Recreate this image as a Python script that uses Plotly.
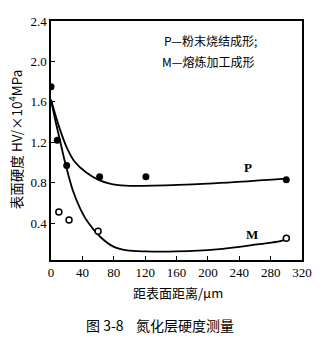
import plotly.graph_objects as go

# measured points
p_x = [0, 8, 20, 62, 121, 300]
p_y = [1.75, 1.22, 0.97, 0.86, 0.86, 0.83]
m_x = [10, 23, 60, 300]
m_y = [0.51, 0.43, 0.32, 0.25]

# fitted curves
pc_x = [0, 10, 20, 30, 45, 60, 75, 95, 130, 200, 300]
pc_y = [1.62, 1.36, 1.15, 1.01, 0.90, 0.83, 0.79, 0.77, 0.77, 0.79, 0.84]
mc_x = [0, 6, 12, 18, 28, 38, 46, 62, 79, 97, 120, 160, 211, 254, 296, 300]
mc_y = [1.62, 1.40, 1.20, 1.00, 0.72, 0.53, 0.42, 0.27, 0.17, 0.13, 0.12, 0.12, 0.14, 0.18, 0.23, 0.25]

x_ticks = [0, 40, 80, 120, 160, 200, 240, 280, 320]
y_ticks = [0.4, 0.8, 1.2, 1.6, 2.0, 2.4]

CJK = "Noto Sans CJK SC"
SERIF = "Liberation Serif"

fig = go.Figure()
fig.add_trace(go.Scatter(x=pc_x, y=pc_y, mode="lines", line=dict(color="black", width=1.8, shape="spline", smoothing=0.8), hoverinfo="skip"))
fig.add_trace(go.Scatter(x=mc_x, y=mc_y, mode="lines", line=dict(color="black", width=1.8, shape="spline", smoothing=0.8), hoverinfo="skip"))
fig.add_trace(go.Scatter(x=p_x, y=p_y, mode="markers", marker=dict(color="black", size=7)))
fig.add_trace(go.Scatter(x=m_x, y=m_y, mode="markers", marker=dict(color="white", size=6, line=dict(color="black", width=1.5))))

def A(**kw):
    d = dict(showarrow=False, xanchor="center", yanchor="middle")
    d.update(kw)
    return d

ann = [
    A(x=141, y=2.21, xref="x", yref="y", text="P—粉末烧结成形;", xanchor="left", font=dict(family=CJK, size=12, color="black")),
    A(x=139, y=1.995, xref="x", yref="y", text="M—熔炼加工成形", xanchor="left", font=dict(family=CJK, size=12, color="black")),
    A(x=251, y=0.95, xref="x", yref="y", text="<b>P</b>", font=dict(family=SERIF, size=13, color="black")),
    A(x=256, y=0.29, xref="x", yref="y", text="<b>M</b>", font=dict(family=SERIF, size=13, color="black")),
    A(x=-0.143, y=0.502, xref="paper", yref="paper", text="表面硬度 HV/×10<sup>4</sup>MPa", textangle=-90, font=dict(family=CJK, size=13.5, color="black")),
    A(x=0.506, y=-0.138, xref="paper", yref="paper", text="距表面距离/μm", font=dict(family=CJK, size=13, color="black")),
    A(x=0.434, y=-0.272, xref="paper", yref="paper", text="图 3-8    氮化层硬度测量", font=dict(family=CJK, size=14, color="black")),
]

fig.update_layout(
    width=323, height=345,
    margin=dict(l=51, r=21, t=21, b=85),
    paper_bgcolor="white", plot_bgcolor="white",
    showlegend=False,
    annotations=ann,
    xaxis=dict(range=[0, 320], tickvals=x_ticks, ticktext=[str(v) for v in x_ticks],
               showgrid=False, zeroline=False, showline=True, mirror=True, linecolor="black", linewidth=1.5,
               ticks="inside", ticklen=4, tickcolor="black", tickfont=dict(family=SERIF, size=13, color="black")),
    yaxis=dict(range=[0.035, 2.4], tickvals=y_ticks, ticktext=["%.1f" % v for v in y_ticks],
               showgrid=False, zeroline=False, showline=True, mirror=True, linecolor="black", linewidth=1.5,
               ticks="inside", ticklen=4, tickcolor="black", tickfont=dict(family=SERIF, size=13, color="black")),
)

fig.write_html("out.html")
